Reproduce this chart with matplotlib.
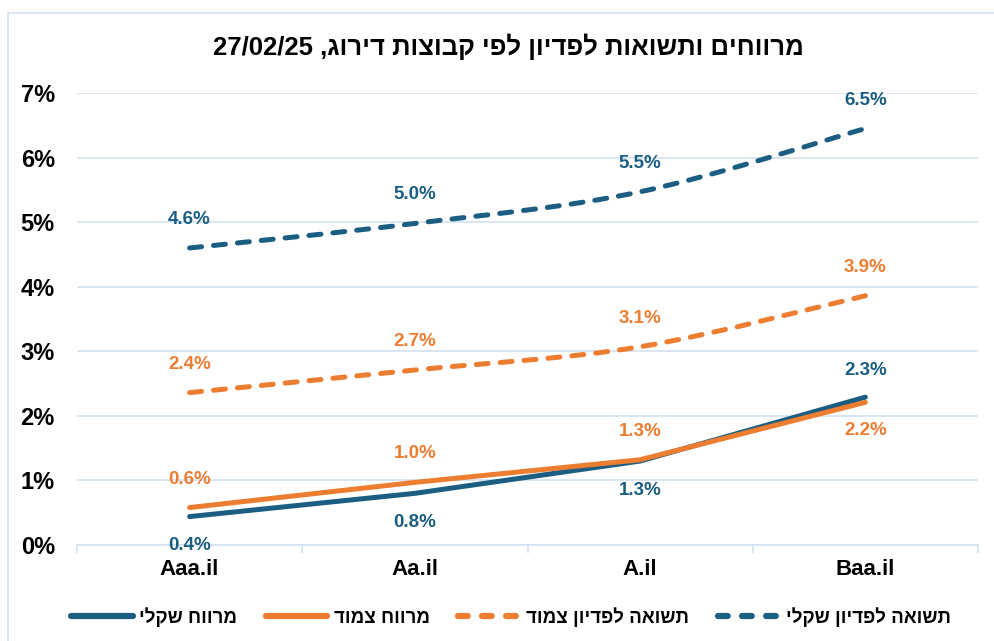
import matplotlib
matplotlib.use("Agg")
import matplotlib.pyplot as plt
from matplotlib.path import Path
from matplotlib.patches import PathPatch, Rectangle
from matplotlib.lines import Line2D
import numpy as np

plt.rcParams['font.family'] = ['Liberation Sans', 'DejaVu Sans']
plt.rcParams['font.weight'] = 'bold'

# ---------------- data ----------------
categories = ["Aaa.il", "Aa.il", "A.il", "Baa.il"]
spread_nominal = [0.44, 0.80, 1.30, 2.29]      # מרווח שקלי
spread_linked = [0.58, 0.97, 1.32, 2.21]       # מרווח צמוד
ytm_linked = [2.36, 2.71, 3.07, 3.86]          # תשואה לפדיון צמוד
ytm_nominal = [4.60, 4.98, 5.47, 6.45]         # תשואה לפדיון שקלי
series_names = ["מרווח שקלי", "מרווח צמוד", "תשואה לפדיון צמוד", "תשואה לפדיון שקלי"]
title_he = "מרווחים ותשואות לפדיון לפי קבוצות דירוג"
title_date = "27/02/25"
y_ticks = [0, 1, 2, 3, 4, 5, 6, 7]

BLUE = "#1B5E82"
ORANGE = "#ED7D31"
GRID = "#D3E1F1"


def vis(s):
    """Hebrew logical order -> visual order (matplotlib has no bidi)."""
    return s[::-1]


def smooth_path(xs, ys, t=1.0):
    pts = np.column_stack([xs, ys]).astype(float)
    n = len(pts)
    verts = [pts[0]]
    codes = [Path.MOVETO]
    for i in range(n - 1):
        p0 = pts[i - 1] if i > 0 else pts[i]
        p1 = pts[i]
        p2 = pts[i + 1]
        p3 = pts[i + 2] if i + 2 < n else pts[i + 1]
        c1 = p1 + (p2 - p0) / 6.0 * t
        c2 = p2 - (p3 - p1) / 6.0 * t
        verts += [c1, c2, p2]
        codes += [Path.CURVE4] * 3
    return Path(verts, codes)


fig = plt.figure(figsize=(9.95, 6.41), dpi=100)
ax = fig.add_axes([77 / 995, 1 - 545 / 641, (978 - 77) / 995, (545 - 93) / 641])

# chart border
fig.patches.append(Rectangle((8 / 995, -0.05), 1.2, 1 - 13 / 641 + 0.05,
                             transform=fig.transFigure, fill=False,
                             ec=GRID, lw=1.2, zorder=0))

x = np.arange(len(categories))
LW = 3.6
DASH = (0, (2.4, 2.4))

# solid lines
ax.plot(x, spread_nominal, color=BLUE, lw=LW, solid_capstyle='round', zorder=3)
ax.plot(x, spread_linked, color=ORANGE, lw=LW, solid_capstyle='round', zorder=4)

# smoothed dashed lines
for vals, col in [(ytm_linked, ORANGE), (ytm_nominal, BLUE)]:
    pp = PathPatch(smooth_path(x, vals), fill=False, ec=col, lw=LW,
                   ls=DASH, capstyle='round', zorder=3)
    ax.add_patch(pp)

# data labels
def lab(vals, col, offsets):
    for xi, v, off in zip(x, vals, offsets):
        ax.annotate(f"{v:.1f}%", (xi, v), xytext=(0, off), textcoords='offset points',
                    ha='center', va='center', color=col, fontsize=13.5,
                    fontweight='bold', zorder=6)

up, dn = 20.5, -21
lab(spread_nominal, BLUE, [dn, dn, dn, up * 0.95])
lab(spread_linked, ORANGE, [up, up, up, dn * 0.95])
lab(ytm_linked, ORANGE, [up, up, up, up])
lab(ytm_nominal, BLUE, [up, up, up, up])

# axes styling
ax.set_xlim(-0.5, len(categories) - 0.5)
ax.set_ylim(0, 7)
ax.set_yticks(y_ticks)
ax.set_yticklabels([f"{v}%" for v in y_ticks], fontsize=17, fontweight='bold')
ax.set_xticks(x)
ax.set_xticklabels(categories, fontsize=16, fontweight='bold')
ax.set_xticks(np.arange(-0.5, len(categories), 1.0), minor=True)
ax.tick_params(axis='x', which='major', length=0, pad=10)
ax.tick_params(axis='x', which='minor', length=6, color=GRID, width=1.2)
ax.tick_params(axis='y', length=0, pad=16)
ax.grid(axis='y', color=GRID, lw=1.2, zorder=0)
ax.set_axisbelow(True)
for s in ['left', 'right', 'top']:
    ax.spines[s].set_visible(False)
ax.spines['bottom'].set_color(GRID)
ax.spines['bottom'].set_linewidth(1.2)

# title
fig.text(508 / 995, 1 - 47 / 641, title_date + " ," + vis(title_he),
         ha='center', va='center', fontsize=18.5, fontweight='bold')

# legend
handles = [
    Line2D([], [], color=BLUE, lw=4.5, solid_capstyle='round'),
    Line2D([], [], color=ORANGE, lw=4.5, solid_capstyle='round'),
    Line2D([], [], color=ORANGE, lw=4.5, ls=(0, (1.55, 2.3)), dash_capstyle='round'),
    Line2D([], [], color=BLUE, lw=4.5, ls=(0, (1.55, 2.3)), dash_capstyle='round'),
]
fig.legend(handles, [vis(s) for s in series_names], loc='center',
           bbox_to_anchor=(511 / 995, 1 - 617 / 641), ncol=4, frameon=False,
           prop={'size': 13.5, 'weight': 'bold'}, handlelength=3.3,
           handletextpad=0.35, columnspacing=1.5)

fig.savefig("out.png", dpi=100)
